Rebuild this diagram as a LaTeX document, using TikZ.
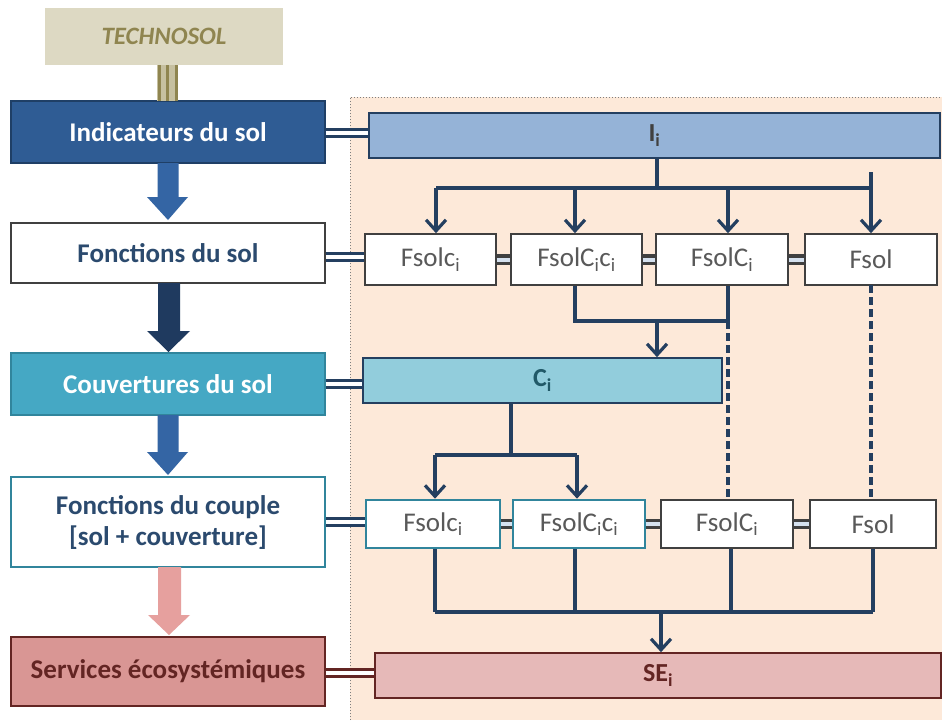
\documentclass[tikz,border=0pt]{standalone}
\usepackage{fontspec}
\setmainfont{Carlito}
\usetikzlibrary{arrows.meta,calc}
\definecolor{techfill}{HTML}{DDD9C3}
\definecolor{techtxt}{HTML}{8F8550}
\definecolor{indfill}{HTML}{2F5C94}
\definecolor{indborder}{HTML}{1F3F66}
\definecolor{blockblue}{HTML}{3465A4}
\definecolor{blockdark}{HTML}{1F3A5F}
\definecolor{blockpink}{HTML}{E6A09E}
\definecolor{navytxt}{HTML}{2B4A6E}
\definecolor{couvfill}{HTML}{45A8C4}
\definecolor{tealb}{HTML}{31859C}
\definecolor{servfill}{HTML}{D99694}
\definecolor{darkred}{HTML}{632523}
\definecolor{panel}{HTML}{FDE9D9}
\definecolor{iifill}{HTML}{95B3D7}
\definecolor{cifill}{HTML}{92CDDC}
\definecolor{cetxt}{HTML}{215968}
\definecolor{sefill}{HTML}{E6B9B8}
\definecolor{conn}{HTML}{243F60}
\definecolor{graytxt}{HTML}{595959}
\definecolor{grayb}{HTML}{404040}
\tikzset{
  box/.style={rectangle, inner sep=0pt, anchor=center, line width=1.6pt},
  leftbox/.style={box, minimum width=314pt, font=\fontsize{27}{31}\selectfont\bfseries, align=center},
  smallbox/.style={box, fill=white, draw=grayb, minimum width=131pt, minimum height=51pt, text=graytxt, font=\fontsize{27}{30}\selectfont},
  tealbox/.style={smallbox, draw=tealb, line width=2.6pt},
  wide/.style={box, draw=conn, minimum height=45pt, font=\fontsize{26}{30}\selectfont\bfseries},
  cline/.style={draw=conn, line width=3.2pt},
  carr/.style={cline, -{Straight Barb[length=11pt,width=20pt,line width=3.2pt]}},
  dline/.style={cline, dash pattern=on 8pt off 4pt},
  dbl/.style={draw=conn, line width=3.4pt, double=white, double distance=4pt},
  dblgray/.style={draw=grayb, line width=3.2pt, double=iifill!40, double distance=4pt},
  dblred/.style={draw=darkred, line width=3.4pt, double=white, double distance=4pt},
}
\begin{document}
\begin{tikzpicture}[x=1pt,y=-1pt]
\useasboundingbox (0,0) rectangle (942,720);
\fill[white] (0,0) rectangle (942,720);
% panel
\fill[panel] (350,97) rectangle (942,720);
\draw[gray, dotted, line width=1pt] (350,720) -- (350,97) -- (942,97);

% left column
\node[box, fill=techfill, minimum width=238pt, minimum height=57pt, text=techtxt, font=\fontsize{25}{28}\selectfont\bfseries\itshape] (techno) at (164,36.5) {TECHNOSOL};
\node[leftbox, fill=indfill, draw=indborder, minimum height=62pt, text=white] (ind) at (168,132) {Indicateurs du sol};
\node[leftbox, fill=white, draw=grayb, minimum height=60pt, text=navytxt] (fsol) at (168,253) {Fonctions du sol};
\node[leftbox, fill=couvfill, draw=tealb, minimum height=62pt, text=white] (couv) at (168,384) {Couvertures du sol};
\node[leftbox, fill=white, draw=tealb, line width=2.6pt, minimum height=90pt, text=navytxt] (fcoup) at (168,522) {Fonctions du couple\\{}[sol + couverture]};
\node[leftbox, fill=servfill, draw=darkred, minimum height=69pt, text=darkred] (serv) at (168,671.5) {Services écosystémiques};

% triple bar from TECHNOSOL
\fill[techfill!70!techtxt] (157,65) rectangle (178,101);
\foreach \xx in {159,167.5,176}{\draw[techtxt, line width=3pt] (\xx,65) -- (\xx,101);}

% block arrows
\fill[blockblue] (157.5,163) -- (178.5,163) -- (178.5,197) -- (188,197) -- (168,220) -- (147,197) -- (157.5,197) -- cycle;
\fill[blockdark] (158,283) -- (180,283) -- (180,331) -- (190,331) -- (168.5,352) -- (147,331) -- (158,331) -- cycle;
\fill[blockblue] (157.5,415) -- (178.5,415) -- (178.5,452) -- (188,452) -- (168,475) -- (147,452) -- (157.5,452) -- cycle;
\fill[blockpink] (158,567) -- (181,567) -- (181,615) -- (190,615) -- (169,635) -- (148,615) -- (158,615) -- cycle;

% right side nodes
\node[wide, fill=iifill, minimum width=571pt, text=grayb] (Ii) at (654.5,135.5) {I\textsubscript{i}};
\node[smallbox] (a1) at (430.5,259.5) {Fsolc\textsubscript{i}};
\node[smallbox] (a2) at (576.5,259.5) {FsolC\textsubscript{i}c\textsubscript{i}};
\node[smallbox, minimum width=132pt] (a3) at (722,259.5) {FsolC\textsubscript{i}};
\node[smallbox, minimum width=132pt] (a4) at (871,259.5) {Fsol};
\node[wide, fill=cifill, minimum width=359pt, text=cetxt] (Ci) at (542.5,380.5) {C\textsubscript{i}};
\node[tealbox, minimum width=134pt, minimum height=48pt] (b1) at (433,524) {Fsolc\textsubscript{i}};
\node[tealbox, minimum width=132pt, minimum height=48pt] (b2) at (579,524) {FsolC\textsubscript{i}c\textsubscript{i}};
\node[smallbox, minimum width=132pt, minimum height=48pt] (b3) at (727,524) {FsolC\textsubscript{i}};
\node[smallbox, minimum width=126pt, minimum height=48pt] (b4) at (873,524) {Fsol};
\node[wide, fill=sefill, draw=darkred, minimum width=566pt, text=darkred] (SE) at (658,675.5) {SE\textsubscript{i}};

% double connectors left -> right
\draw[dbl] (ind.east |- 0,133) -- (Ii.west |- 0,133);
\draw[dbl] (fsol.east |- 0,257) -- (a1.west |- 0,257);
\draw[dbl] (couv.east) -- (couv.east -| Ci.west);
\draw[dbl] (fcoup.east) -- (fcoup.east -| b1.west);
\draw[dblred] (serv.east |- 0,673) -- (SE.west |- 0,673);
% double connectors within rows
\draw[dblgray] (a1.east) -- (a2.west);
\draw[dblgray] (a2.east) -- (a3.west);
\draw[dblgray] (a3.east) -- (a4.west);
\draw[dblgray] (b1.east) -- (b2.west);
\draw[dblgray] (b2.east) -- (b3.west);
\draw[dblgray] (b3.east) -- (b4.west);

% I_i tree
\coordinate (t0) at (657,188);
\coordinate (t1) at (436,188);
\coordinate (t2) at (575,188);
\coordinate (t3) at (728,188);
\coordinate (t4) at (871,188);
\draw[cline] (t0 |- Ii.south) -- (t0);
\draw[cline] (t1) -- (t4);
\draw[cline] (871,172) -- (t4);
\draw[carr] (t1) -- (t1 |- a1.north);
\draw[carr] (t2) -- (t2 |- a2.north);
\draw[carr] (t3) -- (t3 |- a3.north);
\draw[carr] (t4) -- (t4 |- a4.north);

% to C_i
\coordinate (u1) at (575,321);
\coordinate (u2) at (728,321);
\coordinate (u0) at (657,321);
\draw[cline] (u1 |- a2.south) -- (u1) -- (u2) -- (u2 |- a3.south);
\draw[carr] (u0) -- (u0 |- Ci.north);
\draw[dline] (u2) -- (u2 |- b3.north);
\draw[dline] (871,285) -- (871,500);

% C_i tree
\coordinate (v0) at (511,455);
\coordinate (v1) at (435,455);
\coordinate (v2) at (577,455);
\draw[cline] (v0 |- Ci.south) -- (v0);
\draw[cline] (v1) -- (v2);
\draw[carr] (v1) -- (v1 |- b1.north);
\draw[carr] (v2) -- (v2 |- b2.north);

% to SE
\coordinate (w1) at (435,612);
\coordinate (w2) at (575,612);
\coordinate (w3) at (731,612);
\coordinate (w4) at (873,612);
\coordinate (w0) at (661,612);
\draw[cline] (w1 |- b1.south) -- (w1);
\draw[cline] (w2 |- b2.south) -- (w2);
\draw[cline] (w3 |- b3.south) -- (w3);
\draw[cline] (w4 |- b4.south) -- (w4);
\draw[cline] (w1) -- (w4);
\draw[carr] (w0) -- (w0 |- SE.north);
\end{tikzpicture}
\end{document}
